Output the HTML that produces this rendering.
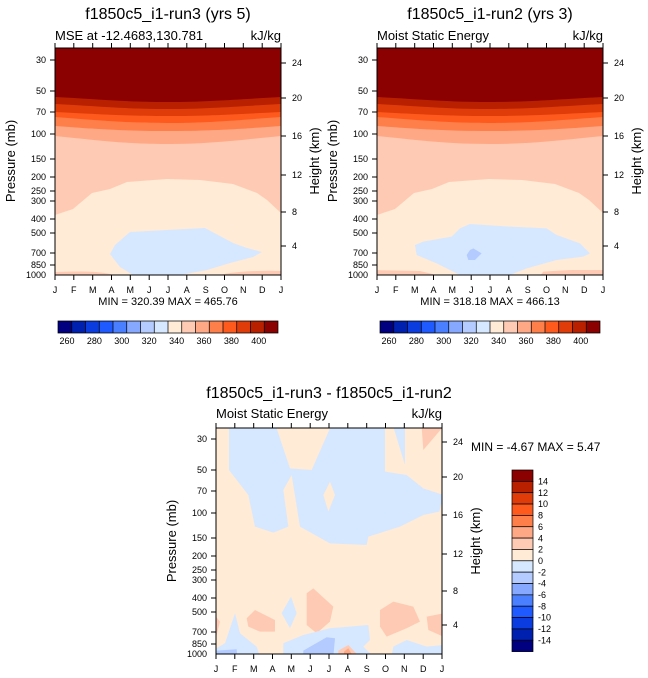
<!DOCTYPE html>
<html><head><meta charset="utf-8"><style>
html,body{margin:0;padding:0;background:#fff}
svg{display:block}
text{font-family:"Liberation Sans",sans-serif;fill:#000}
.t9{font-size:9px}
.m{text-anchor:middle}
.e{text-anchor:end}
</style></head><body>
<svg width="648" height="678" viewBox="0 0 648 678" xmlns="http://www.w3.org/2000/svg">
<defs>
<clipPath id="c1"><rect x="55" y="48" width="226" height="227"/></clipPath>
<clipPath id="c2"><rect x="377" y="48" width="226" height="227"/></clipPath>
<clipPath id="c3"><rect x="216" y="428" width="226" height="226"/></clipPath>
<g id="mseTop">
<rect x="55" y="48" width="226" height="227" fill="#ffebd6"/>
<path d="M55,48H281V213L267,200L257,193L233,184L200,180L167,179L127,182L110,189L92,193L73,209L55,215Z" fill="#ffcab3"/>
<path d="M55,48H281V136C240,140 210,144 167,144C125,144 95,140 55,136Z" fill="#ffa886"/>
<path d="M55,48H281V126C240,129 210,131 167,131C125,131 95,129 55,126Z" fill="#ff7f4a"/>
<path d="M55,48H281V117C240,120 210,123 167,123C125,123 95,120 55,117Z" fill="#ff5a1e"/>
<path d="M55,48H281V112C240,114 210,116 167,116C125,116 95,114 55,112Z" fill="#e03c0a"/>
<path d="M55,48H281V104C240,106 210,109 167,109C125,109 95,106 55,104Z" fill="#b82000"/>
<path d="M55,48H281V97C240,99 210,102 167,102C125,102 95,99 55,97Z" fill="#8b0000"/>
</g>
<g id="cbar">
<rect x="58" y="321" width="13.75" height="12" fill="#000080"/>
<rect x="71.75" y="321" width="13.75" height="12" fill="#0020b0"/>
<rect x="85.5" y="321" width="13.75" height="12" fill="#0a3ce0"/>
<rect x="99.25" y="321" width="13.75" height="12" fill="#1e5aff"/>
<rect x="113" y="321" width="13.75" height="12" fill="#4a7fff"/>
<rect x="126.75" y="321" width="13.75" height="12" fill="#86a8ff"/>
<rect x="140.5" y="321" width="13.75" height="12" fill="#b3cbff"/>
<rect x="154.25" y="321" width="13.75" height="12" fill="#d6e8ff"/>
<rect x="168" y="321" width="13.75" height="12" fill="#ffebd6"/>
<rect x="181.75" y="321" width="13.75" height="12" fill="#ffcab3"/>
<rect x="195.5" y="321" width="13.75" height="12" fill="#ffa886"/>
<rect x="209.25" y="321" width="13.75" height="12" fill="#ff7f4a"/>
<rect x="223" y="321" width="13.75" height="12" fill="#ff5a1e"/>
<rect x="236.75" y="321" width="13.75" height="12" fill="#e03c0a"/>
<rect x="250.5" y="321" width="13.75" height="12" fill="#b82000"/>
<rect x="264.25" y="321" width="13.75" height="12" fill="#8b0000"/>
<path d="M58,321H278V333H58Z M71.75,321V333 M85.5,321V333 M99.25,321V333 M113,321V333 M126.75,321V333 M140.5,321V333 M154.25,321V333 M168,321V333 M181.75,321V333 M195.5,321V333 M209.25,321V333 M223,321V333 M236.75,321V333 M250.5,321V333 M264.25,321V333" fill="none" stroke="#000" stroke-width="0.7"/>
</g>
<path id="ticksTop" d="M55,275v5 M73.8,275v5 M92.7,275v5 M111.5,275v5 M130.3,275v5 M149.2,275v5 M168,275v5 M186.8,275v5 M205.7,275v5 M224.5,275v5 M243.3,275v5 M262.2,275v5 M281,275v5 M55,48v-5 M73.8,48v-5 M92.7,48v-5 M111.5,48v-5 M130.3,48v-5 M149.2,48v-5 M168,48v-5 M186.8,48v-5 M205.7,48v-5 M224.5,48v-5 M243.3,48v-5 M262.2,48v-5 M281,48v-5 M55,60h-5 M55,91h-5 M55,112h-5 M55,134h-5 M55,159h-5 M55,177h-5 M55,191h-5 M55,201h-5 M55,219h-5 M55,233h-5 M55,253h-5 M55,265h-5 M281,63h5 M281,98h5 M281,136h5 M281,175h5 M281,212h5 M281,246h5" fill="none" stroke="#000" stroke-width="1"/>
</defs>

<!-- Top-left plot -->
<text x="168" y="19" font-size="16" class="m">f1850c5_i1-run3 (yrs 5)</text>
<text x="55" y="40" font-size="13">MSE at -12.4683,130.781</text>
<text x="281" y="40" font-size="13" class="e">kJ/kg</text>
<g clip-path="url(#c1)">
<use href="#mseTop"/>
<path d="M110,254L115,245L130,232L167,230L205,228L233,243L247,248L262,252L253,257L230,263L207,270L180,275L133,275L120,267Z" fill="#d6e8ff"/>
<path d="M55,272C80,271 100,271 115,275H55Z M220,275C230,272 260,270 281,271V275Z" fill="#ffcab3"/>
</g>
<rect x="55" y="48" width="226" height="227" fill="none" stroke="#000" stroke-width="1"/>
<use href="#ticksTop"/>
<g class="t9">
<text x="55" y="293" class="m">J</text><text x="73.8" y="293" class="m">F</text><text x="92.7" y="293" class="m">M</text><text x="111.5" y="293" class="m">A</text><text x="130.3" y="293" class="m">M</text><text x="149.2" y="293" class="m">J</text><text x="168" y="293" class="m">J</text><text x="186.8" y="293" class="m">A</text><text x="205.7" y="293" class="m">S</text><text x="224.5" y="293" class="m">O</text><text x="243.3" y="293" class="m">N</text><text x="262.2" y="293" class="m">D</text><text x="281" y="293" class="m">J</text>
<text x="46" y="63" class="e">30</text><text x="46" y="94" class="e">50</text><text x="46" y="115" class="e">70</text><text x="46" y="137" class="e">100</text><text x="46" y="162" class="e">150</text><text x="46" y="180" class="e">200</text><text x="46" y="194" class="e">250</text><text x="46" y="204" class="e">300</text><text x="46" y="222" class="e">400</text><text x="46" y="236" class="e">500</text><text x="46" y="256" class="e">700</text><text x="46" y="268" class="e">850</text><text x="46" y="278" class="e">1000</text>
<text x="292" y="66">24</text><text x="292" y="101">20</text><text x="292" y="139">16</text><text x="292" y="178">12</text><text x="292" y="215">8</text><text x="292" y="249">4</text>
</g>
<text transform="translate(15,161) rotate(-90)" font-size="13" class="m">Pressure (mb)</text>
<text transform="translate(319,161) rotate(-90)" font-size="13" class="m">Height (km)</text>
<text x="168" y="305" font-size="11" class="m">MIN = 320.39 MAX = 465.76</text>
<use href="#cbar"/>
<g class="t9">
<text x="67" y="344" class="m">260</text><text x="94.4" y="344" class="m">280</text><text x="121.8" y="344" class="m">300</text><text x="149.2" y="344" class="m">320</text><text x="176.6" y="344" class="m">340</text><text x="204" y="344" class="m">360</text><text x="231.4" y="344" class="m">380</text><text x="258.8" y="344" class="m">400</text>
</g>

<!-- Top-right plot -->
<text x="490" y="19" font-size="16" class="m">f1850c5_i1-run2 (yrs 3)</text>
<text x="377" y="40" font-size="13">Moist Static Energy</text>
<text x="603" y="40" font-size="13" class="e">kJ/kg</text>
<g clip-path="url(#c2)">
<use href="#mseTop" transform="translate(322,0)"/>
<g transform="translate(370,200) scale(0.3333)">
<path d="M135,135L160,125L245,110L270,85L300,72L420,80L530,85L560,105L630,130L660,160L640,170L560,180L470,205L420,225L270,225L200,190L140,165Z" fill="#d6e8ff"/>
<path d="M300,150L310,145L335,160L315,180L295,180L290,165Z" fill="#b3cbff"/>
<path d="M0,210L150,213L200,225L0,225Z M520,215L600,210L700,210L700,240L500,240Z" fill="#ffcab3"/>
</g>
</g>
<rect x="377" y="48" width="226" height="227" fill="none" stroke="#000" stroke-width="1"/>
<use href="#ticksTop" transform="translate(322,0)"/>
<g class="t9">
<text x="377" y="293" class="m">J</text><text x="395.8" y="293" class="m">F</text><text x="414.7" y="293" class="m">M</text><text x="433.5" y="293" class="m">A</text><text x="452.3" y="293" class="m">M</text><text x="471.2" y="293" class="m">J</text><text x="490" y="293" class="m">J</text><text x="508.8" y="293" class="m">A</text><text x="527.7" y="293" class="m">S</text><text x="546.5" y="293" class="m">O</text><text x="565.3" y="293" class="m">N</text><text x="584.2" y="293" class="m">D</text><text x="603" y="293" class="m">J</text>
<text x="368" y="63" class="e">30</text><text x="368" y="94" class="e">50</text><text x="368" y="115" class="e">70</text><text x="368" y="137" class="e">100</text><text x="368" y="162" class="e">150</text><text x="368" y="180" class="e">200</text><text x="368" y="194" class="e">250</text><text x="368" y="204" class="e">300</text><text x="368" y="222" class="e">400</text><text x="368" y="236" class="e">500</text><text x="368" y="256" class="e">700</text><text x="368" y="268" class="e">850</text><text x="368" y="278" class="e">1000</text>
<text x="614" y="66">24</text><text x="614" y="101">20</text><text x="614" y="139">16</text><text x="614" y="178">12</text><text x="614" y="215">8</text><text x="614" y="249">4</text>
</g>
<text transform="translate(337,161) rotate(-90)" font-size="13" class="m">Pressure (mb)</text>
<text transform="translate(641,161) rotate(-90)" font-size="13" class="m">Height (km)</text>
<text x="490" y="305" font-size="11" class="m">MIN = 318.18 MAX = 466.13</text>
<use href="#cbar" transform="translate(322,0)"/>
<g class="t9">
<text x="389" y="344" class="m">260</text><text x="416.4" y="344" class="m">280</text><text x="443.8" y="344" class="m">300</text><text x="471.2" y="344" class="m">320</text><text x="498.6" y="344" class="m">340</text><text x="526" y="344" class="m">360</text><text x="553.4" y="344" class="m">380</text><text x="580.8" y="344" class="m">400</text>
</g>

<!-- Bottom plot -->
<text x="329" y="398" font-size="16" class="m">f1850c5_i1-run3 - f1850c5_i1-run2</text>
<text x="216" y="418" font-size="13">Moist Static Energy</text>
<text x="442" y="418" font-size="13" class="e">kJ/kg</text>
<g clip-path="url(#c3)">
<rect x="216" y="428" width="226" height="226" fill="#ffebd6"/>
<g transform="translate(160,380) scale(0.3333)">
<path d="M207,145L350,145L390,265L455,270L510,145L675,145L675,275L740,285L790,325L850,345L838,395L790,405L720,440L625,470L620,495L510,490L420,440L395,285L370,330L385,440L340,458L285,440L265,345L207,270Z" fill="#d6e8ff"/>
<path d="M490,345L510,305L525,345L505,395Z" fill="#ffebd6"/>
<path d="M700,140L735,140L735,255Z" fill="#d6e8ff"/>
<path d="M785,140L850,140L790,210Z" fill="#ffcab3"/>
<path d="M260,715L285,690L345,720L345,755L300,755L265,740Z" fill="#ffcab3"/>
<path d="M440,640L460,625L520,680L510,725L470,760L440,735Z" fill="#ffcab3"/>
<path d="M660,690L700,665L760,680L780,725L740,745L680,770L660,740Z" fill="#ffcab3"/>
<path d="M800,710L850,700L850,770L805,750Z" fill="#ffcab3"/>
<path d="M160,700L180,725L170,765L160,770Z" fill="#ffcab3"/>
<path d="M365,700L393,650L410,700L390,745Z" fill="#d6e8ff"/>
<path d="M370,790L430,765L510,745L625,735L630,780L610,800L640,830L370,830Z" fill="#d6e8ff"/>
<path d="M195,790L225,700L240,760L290,800L300,830L160,830L160,810Z" fill="#d6e8ff"/>
<path d="M700,800L740,780L800,800L850,795L850,830L695,830Z" fill="#d6e8ff"/>
<path d="M430,812L500,772L525,775L520,830L430,830Z" fill="#b3cbff"/>
<path d="M170,812L230,808L232,830L170,830Z" fill="#b3cbff"/>
<path d="M535,812L565,795L598,830L535,830Z" fill="#ffcab3"/>
<path d="M552,815L565,805L580,830L552,830Z" fill="#ffa886"/>
</g>
</g>
<rect x="216" y="428" width="226" height="226" fill="none" stroke="#000" stroke-width="1"/>
<path d="M216,654v5 M234.8,654v5 M253.7,654v5 M272.5,654v5 M291.3,654v5 M310.2,654v5 M329,654v5 M347.8,654v5 M366.7,654v5 M385.5,654v5 M404.3,654v5 M423.2,654v5 M442,654v5 M216,428v-5 M234.8,428v-5 M253.7,428v-5 M272.5,428v-5 M291.3,428v-5 M310.2,428v-5 M329,428v-5 M347.8,428v-5 M366.7,428v-5 M385.5,428v-5 M404.3,428v-5 M423.2,428v-5 M442,428v-5 M216,439h-5 M216,470h-5 M216,491h-5 M216,513h-5 M216,538h-5 M216,556h-5 M216,570h-5 M216,580h-5 M216,598h-5 M216,612h-5 M216,632h-5 M216,644h-5 M442,442h5 M442,477h5 M442,515h5 M442,554h5 M442,591h5 M442,625h5" fill="none" stroke="#000" stroke-width="1"/>
<g class="t9">
<text x="216" y="672" class="m">J</text><text x="234.8" y="672" class="m">F</text><text x="253.7" y="672" class="m">M</text><text x="272.5" y="672" class="m">A</text><text x="291.3" y="672" class="m">M</text><text x="310.2" y="672" class="m">J</text><text x="329" y="672" class="m">J</text><text x="347.8" y="672" class="m">A</text><text x="366.7" y="672" class="m">S</text><text x="385.5" y="672" class="m">O</text><text x="404.3" y="672" class="m">N</text><text x="423.2" y="672" class="m">D</text><text x="442" y="672" class="m">J</text>
<text x="207" y="442" class="e">30</text><text x="207" y="473" class="e">50</text><text x="207" y="494" class="e">70</text><text x="207" y="516" class="e">100</text><text x="207" y="541" class="e">150</text><text x="207" y="559" class="e">200</text><text x="207" y="573" class="e">250</text><text x="207" y="583" class="e">300</text><text x="207" y="601" class="e">400</text><text x="207" y="615" class="e">500</text><text x="207" y="635" class="e">700</text><text x="207" y="647" class="e">850</text><text x="207" y="657" class="e">1000</text>
<text x="453" y="445">24</text><text x="453" y="480">20</text><text x="453" y="518">16</text><text x="453" y="557">12</text><text x="453" y="594">8</text><text x="453" y="628">4</text>
</g>
<text transform="translate(176,541) rotate(-90)" font-size="13" class="m">Pressure (mb)</text>
<text transform="translate(480,541) rotate(-90)" font-size="13" class="m">Height (km)</text>
<text x="471" y="451" font-size="12">MIN =  -4.67 MAX =   5.47</text>
<g stroke="#000" stroke-width="0.7">
<rect x="512" y="470" width="21" height="11.35" fill="#8b0000"/>
<rect x="512" y="481.35" width="21" height="11.35" fill="#b82000"/>
<rect x="512" y="492.7" width="21" height="11.35" fill="#e03c0a"/>
<rect x="512" y="504.05" width="21" height="11.35" fill="#ff5a1e"/>
<rect x="512" y="515.4" width="21" height="11.35" fill="#ff7f4a"/>
<rect x="512" y="526.75" width="21" height="11.35" fill="#ffa886"/>
<rect x="512" y="538.1" width="21" height="11.35" fill="#ffcab3"/>
<rect x="512" y="549.45" width="21" height="11.35" fill="#ffebd6"/>
<rect x="512" y="560.8" width="21" height="11.35" fill="#d6e8ff"/>
<rect x="512" y="572.15" width="21" height="11.35" fill="#b3cbff"/>
<rect x="512" y="583.5" width="21" height="11.35" fill="#86a8ff"/>
<rect x="512" y="594.85" width="21" height="11.35" fill="#4a7fff"/>
<rect x="512" y="606.2" width="21" height="11.35" fill="#1e5aff"/>
<rect x="512" y="617.55" width="21" height="11.35" fill="#0a3ce0"/>
<rect x="512" y="628.9" width="21" height="11.35" fill="#0020b0"/>
<rect x="512" y="640.25" width="21" height="11.35" fill="#000080"/>
</g>
<g class="t9">
<text x="538" y="484.5">14</text><text x="538" y="495.9">12</text><text x="538" y="507.2">10</text><text x="538" y="518.6">8</text><text x="538" y="529.9">6</text><text x="538" y="541.3">4</text><text x="538" y="552.6">2</text><text x="538" y="564">0</text><text x="538" y="575.3">-2</text><text x="538" y="586.7">-4</text><text x="538" y="598">-6</text><text x="538" y="609.4">-8</text><text x="538" y="620.7">-10</text><text x="538" y="632.1">-12</text><text x="538" y="643.4">-14</text>
</g>
</svg>
</body></html>
